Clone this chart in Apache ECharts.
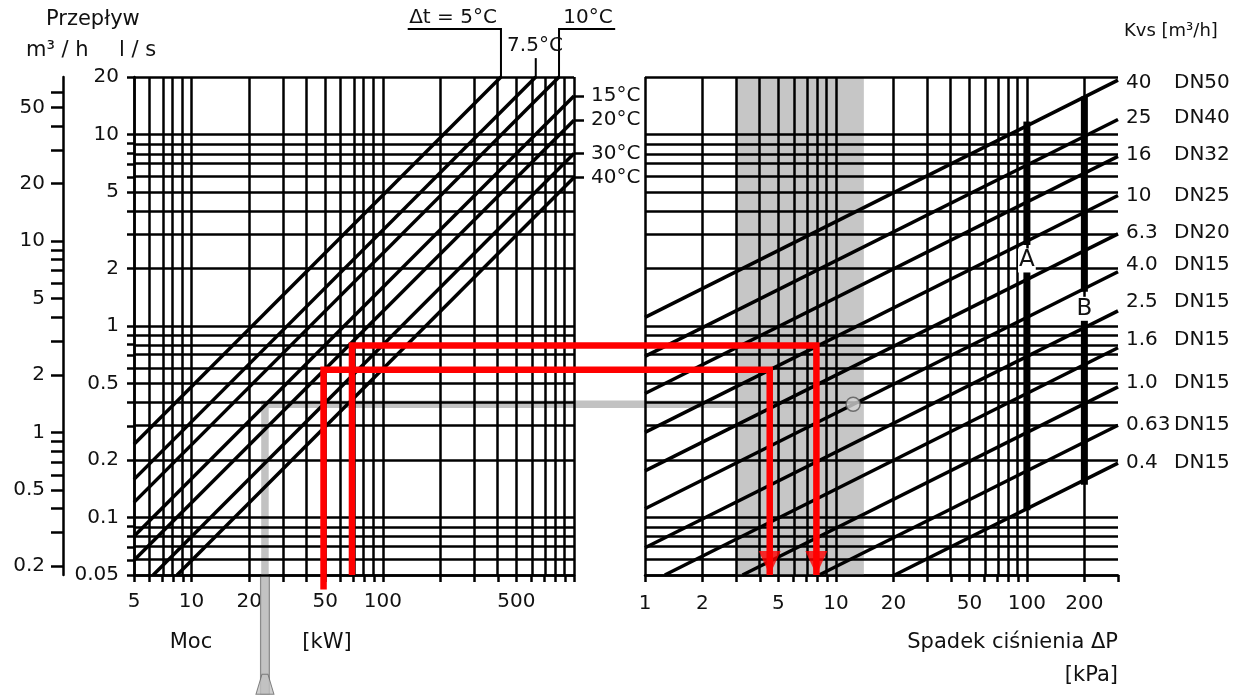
<!DOCTYPE html>
<html>
<head>
<meta charset="utf-8">
<script src="https://cdn.jsdelivr.net/npm/echarts@6/dist/echarts.min.js"></script>
<style>
html, body { margin: 0; padding: 0; background: #fff; }
#chart { width: 1244px; height: 695px; }
</style>
</head>
<body>
<div id="chart"></div>
<script>
// ---- gridlines / ticks / labels ----
var powerGrid = [5,6,7,8,9,10,20,30,40,50,60,70,80,90,100,200,300,400,500,600,700,800,900,1000];
var powerLabels = [5,10,20,50,100,500];
var pressGrid = [1,2,3,4,5,6,7,8,9,10,20,30,40,50,60,70,80,90,100,200,300];
var pressLabels = [1,2,5,10,20,50,100,200];
var flowGrid = [0.05,0.06,0.07,0.08,0.09,0.1,0.2,0.3,0.4,0.5,0.6,0.7,0.8,0.9,1,2,3,4,5,6,7,8,9,10,20];
var flowLabels = [20,10,5,2,1,0.5,0.2,0.1,0.05];
var m3hRange = [0.18, 72];
var m3hTicks = [60,50,40,30,20,10,9,8,7,6,5,4,3,2,1,0.9,0.8,0.7,0.6,0.5,0.4,0.3,0.2];
var m3hLabels = [50,20,10,5,2,1,0.5,0.2];

// ---- delta t lines (left): [kW, l/s] -> [kW, l/s] ----
var dtLines = [
  [5,0.241,415,20],
  [5,0.158,631,20],
  [5,0.1198,835,20],
  [5,0.0796,1000,15.9],
  [5,0.0597,1000,11.9],
  [6.3,0.05,1000,7.96],
  [8.4,0.05,1000,5.97]
];
var dtSideNames = ['15°C','20°C','30°C','40°C'];
var dtSideFlow = [15.9,11.9,7.96,5.97];
var leader5 = [[135,35.6],[415,35.6],[415,20]];
var leader75 = [[631,25.1],[631,20]];
var leader10 = [[835,20],[835,35.6],[1000,35.6]];
var leader10Gap = [[0,35.6],[0.58,35.6]];   // continues into the gap between panels

// ---- Kvs lines (right): [kPa, l/s] -> [kPa, l/s] ----
var kvsNames = ['40','25','16','10','6.3','4.0','2.5','1.6','1.0','0.63','0.4'];
var dnNames = ['DN50','DN40','DN32','DN25','DN20','DN15','DN15','DN15','DN15','DN15','DN15'];
var kvsLabelFlow = [18.6,12.2,7.82,4.78,3.06,2.08,1.335,0.845,0.504,0.304,0.192];
var kvsLines = [
  [1,1.11,300,19.25],
  [1,0.694,300,12.0],
  [1,0.444,300,7.70],
  [1,0.278,300,4.81],
  [1,0.175,300,3.03],
  [1,0.111,300,1.92],
  [1,0.0694,300,1.20],
  [1.27,0.05,300,0.770],
  [3.24,0.05,300,0.481],
  [8.16,0.05,300,0.303],
  [20.3,0.05,300,0.192]
];
// valve ranges A and B: [kPa, from l/s, to l/s]
var rangeA = [[100,11.7,2.65],[100,1.96,0.109]];
var rangeB = [[200,15.8,1.51],[200,1.12,0.148]];
var rangeLabels = [['A',100,2.2],['B',200,1.23]];
var shadeBand = [3,14];

// ---- worked examples ----
var redKw = [49, 69];
var redStartFlow = [0.042, 0.05];
var redFlow = [0.59, 0.79];
var redKpa = [4.5, 7.9];
var grayKw = 24.2, grayStartFlow = 0.0119, grayFlow = 0.39, grayKpa = 12.3;

var FONT = 'DejaVu Sans';
var INK = '#111';
var GRAY = '#c2c2c2';
var L = function (v) { return Math.log10(v); };
function pt(p) { return [L(p[0]), L(p[1])]; }
function fmt(v) { return String(parseFloat(Math.pow(10, v).toPrecision(4))); }
function pick(values, names) {
  return function (v) {
    var best = 0;
    for (var i = 1; i < values.length; i++) {
      if (Math.abs(L(values[i]) - v) < Math.abs(L(values[best]) - v)) best = i;
    }
    return names[best];
  };
}
function path(xi, yi, pts, color, width, z, linearX) {
  return {
    type: 'line', xAxisIndex: xi, yAxisIndex: yi,
    data: pts.map(function (p) { return linearX ? [p[0], L(p[1])] : pt(p); }),
    symbol: 'none', silent: true, clip: false, animation: false, z: z,
    lineStyle: { color: color, width: width, cap: 'butt', join: 'miter' }
  };
}
function gridLines(xi, yi, xs, ys) {
  return {
    type: 'line', xAxisIndex: xi, yAxisIndex: yi, data: [], silent: true,
    markLine: {
      z: 3, silent: true, animation: false, symbol: ['none', 'none'],
      label: { show: false }, emphasis: { disabled: true },
      lineStyle: { color: '#000', width: 2.5, type: 'solid' },
      data: xs.map(function (v) { return { xAxis: L(v) }; })
        .concat(ys.map(function (v) { return { yAxis: L(v) }; }))
    }
  };
}
var labelStyle = { color: INK, fontSize: 20, fontFamily: FONT };
function axisBase(extra) {
  var a = {
    type: 'value', splitLine: { show: false },
    axisLine: { show: true, onZero: false, lineStyle: { color: '#000', width: 2.5 } },
    axisTick: { show: false },
    axisLabel: { show: false }
  };
  for (var k in extra) a[k] = extra[k];
  return a;
}
function ticks(vals, len) {
  return { show: true, customValues: vals.map(L), length: len, lineStyle: { color: '#000', width: 2.5 } };
}
function labels(vals, margin, formatter) {
  var o = { show: true, customValues: vals.map(L), margin: margin, formatter: formatter || fmt };
  for (var k in labelStyle) o[k] = labelStyle[k];
  return o;
}

var series = [];
// shaded band
series.push({
  type: 'line', xAxisIndex: 1, yAxisIndex: 3, data: [], silent: true,
  markArea: { z: 1, silent: true, itemStyle: { color: '#c6c6c6' },
    data: [[{ xAxis: L(shadeBand[0]) }, { xAxis: L(shadeBand[1]) }]] }
});
// gray example (under the grid)
series.push(path(0, 0, [[grayKw, grayStartFlow], [grayKw, 0.05]], '#8a8a8a', 10, 2));
series.push(path(0, 0, [[grayKw, grayStartFlow], [grayKw, grayFlow], [1000, grayFlow]], GRAY, 7.5, 2));
series.push(path(2, 5, [[0, grayFlow], [1, grayFlow]], GRAY, 7.5, 2, true));
series.push(path(1, 3, [[1, grayFlow], [grayKpa, grayFlow]], GRAY, 7.5, 2));
// grids
series.push(gridLines(0, 0, powerGrid, flowGrid));
series.push(gridLines(1, 3, pressGrid, flowGrid));
// delta t lines and leaders
dtLines.forEach(function (d) { series.push(path(0, 0, [[d[0], d[1]], [d[2], d[3]]], '#000', 3.5, 4)); });
[leader5, leader75, leader10].forEach(function (d) { series.push(path(0, 0, d, '#000', 2, 4)); });
series.push(path(2, 5, leader10Gap, '#000', 2, 4, true));
// Kvs lines and valve ranges
kvsLines.forEach(function (d) { series.push(path(1, 3, [[d[0], d[1]], [d[2], d[3]]], '#000', 3.5, 4)); });
rangeA.concat(rangeB).forEach(function (d) { series.push(path(1, 3, [[d[0], d[1]], [d[0], d[2]]], '#000', 7, 4)); });
// red examples
for (var i = 0; i < redKw.length; i++) {
  series.push(path(0, 0, [[redKw[i], redStartFlow[i]], [redKw[i], redFlow[i]], [1000, redFlow[i]]], '#ff0000', 6.5, 6));
  series.push(path(2, 5, [[0, redFlow[i]], [1, redFlow[i]]], '#ff0000', 6.5, 6, true));
  series.push(path(1, 3, [[1, redFlow[i]], [redKpa[i], redFlow[i]], [redKpa[i], 0.05]], '#ff0000', 6.5, 6));
}
series.push({
  type: 'scatter', xAxisIndex: 1, yAxisIndex: 3, silent: true, z: 7, clip: false,
  symbol: 'triangle', symbolRotate: 180, symbolSize: [22, 24], symbolOffset: [0, -12],
  itemStyle: { color: '#ff0000' },
  data: redKpa.map(function (k) { return [L(k), L(0.05)]; })
});
// gray marker circle and pointer
series.push({
  type: 'scatter', xAxisIndex: 1, yAxisIndex: 3, silent: true, z: 7,
  symbol: 'circle', symbolSize: 14,
  itemStyle: { color: '#d2d2d2', borderColor: '#555', borderWidth: 1.5 },
  data: [[L(grayKpa), L(grayFlow)]]
});
series.push({
  type: 'scatter', xAxisIndex: 0, yAxisIndex: 0, silent: true, z: 7, clip: false,
  symbol: 'path://M4,0 L8,0 L12,20 L0,20 Z', symbolSize: [18, 20], symbolOffset: [0, -10],
  itemStyle: { color: GRAY, borderColor: '#666', borderWidth: 1 },
  data: [[L(grayKw), L(grayStartFlow)]]
});

function text(t, x, y, align, size, boxed) {
  var style = { text: t, fill: INK, fontSize: size || 20, fontFamily: FONT,
    align: align, textAlign: align, verticalAlign: 'middle', textVerticalAlign: 'middle' };
  if (boxed) { style.backgroundColor = '#fff'; style.padding = [1, 1, 0, 1]; }
  return { type: 'text', x: x, y: y, silent: true, z: 100, style: style };
}
var texts = [
  text('Przepływ', 46, 20, 'left', 21),
  text('m³ / h', 26, 51, 'left', 21),
  text('l / s', 119, 51, 'left', 21),
  text('Δt = 5°C', 453, 18, 'center'),
  text('7.5°C', 535, 46, 'center'),
  text('10°C', 588, 18, 'center'),
  text('Moc', 191, 643, 'center', 21),
  text('[kW]', 327, 643, 'center', 21),
  text('Spadek ciśnienia ΔP', 1118, 643, 'right', 21),
  text('[kPa]', 1118, 676, 'right', 21),
  text('Kvs [m³/h]', 1124, 31, 'left', 18)
];

var chart = echarts.init(document.getElementById('chart'));
chart.setOption({
  animation: false,
  backgroundColor: '#fff',
  grid: [
    { left: 134, top: 77, width: 440, height: 498, containLabel: false, outerBoundsMode: 'none' },
    { left: 645, top: 77, width: 473, height: 498, containLabel: false, outerBoundsMode: 'none' },
    { left: 574, top: 77, width: 71, height: 498, containLabel: false, outerBoundsMode: 'none' }
  ],
  xAxis: [
    axisBase({ gridIndex: 0, min: L(5), max: L(1000),
      axisTick: ticks(powerGrid, 7), axisLabel: labels(powerLabels, 17) }),
    axisBase({ gridIndex: 1, min: L(1), max: L(300),
      axisTick: ticks(pressGrid, 7), axisLabel: labels(pressLabels, 19) }),
    { type: 'value', gridIndex: 2, min: 0, max: 1, show: false }
  ],
  yAxis: [
    axisBase({ gridIndex: 0, position: 'left', min: L(0.05), max: L(20),
      axisTick: ticks(flowGrid, 7), axisLabel: labels(flowLabels, 15) }),
    axisBase({ gridIndex: 0, position: 'left', offset: 71, min: L(m3hRange[0]), max: L(m3hRange[1]),
      axisTick: ticks(m3hTicks, 12), axisLabel: labels(m3hLabels, 18) }),
    axisBase({ gridIndex: 0, position: 'right', min: L(0.05), max: L(20),
      axisLine: { show: false },
      axisTick: ticks(dtSideFlow, 10),
      axisLabel: labels(dtSideFlow, 17, pick(dtSideFlow, dtSideNames)) }),
    axisBase({ gridIndex: 1, position: 'left', min: L(0.05), max: L(20), axisLine: { show: false } }),
    axisBase({ gridIndex: 1, position: 'right', min: L(0.05), max: L(20),
      axisLine: { show: false },
      axisLabel: (function () {
        var o = labels(kvsLabelFlow, 8, function (v) {
          var i = kvsNames.indexOf(pick(kvsLabelFlow, kvsNames)(v));
          return '{a|' + kvsNames[i] + '}{b|' + dnNames[i] + '}';
        });
        o.rich = {
          a: { width: 48, color: INK, fontSize: 20, fontFamily: FONT },
          b: { color: INK, fontSize: 20, fontFamily: FONT }
        };
        return o;
      })() }),
    { type: 'value', gridIndex: 2, min: L(0.05), max: L(20), show: false }
  ],
  graphic: texts,
  series: series
});

// A / B letters placed through the right panel's scales
rangeLabels.forEach(function (r) {
  var p = chart.convertToPixel({ gridIndex: 1 }, [L(r[1]), L(r[2])]);
  texts.push(text(r[0], p[0], p[1], 'center', 23, true));
});
chart.setOption({ graphic: texts });
</script>
</body>
</html>
